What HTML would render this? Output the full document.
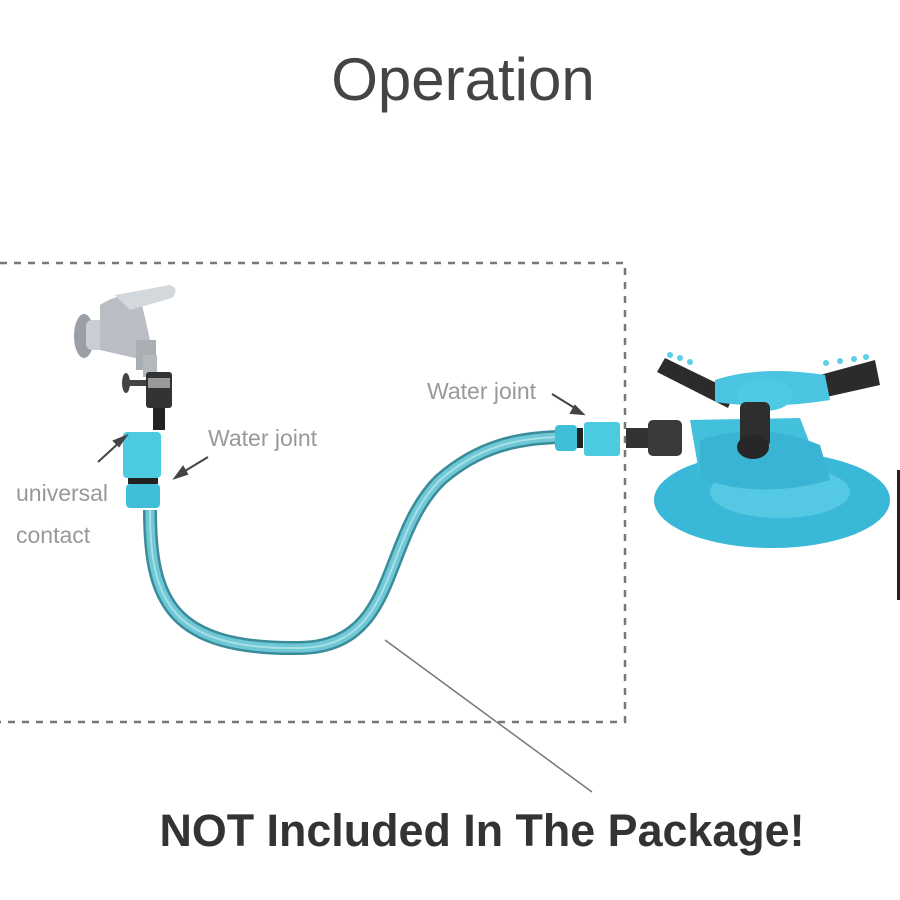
<!DOCTYPE html>
<html><head><style>
body{margin:0;background:#fff;}
svg{display:block;}
</style></head><body>
<svg width="900" height="900" viewBox="0 0 900 900" xmlns="http://www.w3.org/2000/svg" font-family="Liberation Sans, sans-serif">
<rect width="900" height="900" fill="#fff"/>
<text x="463" y="100" font-size="60" fill="#444" text-anchor="middle">Operation</text>
<!-- dashed box -->
<path d="M0 263 H625 V722 H0" fill="none" stroke="#777" stroke-width="2.5" stroke-dasharray="7,7"/>
<!-- hose -->
<path d="M150 510 C150 600 170 650 300 648 C400 646 380 540 440 480 C480 445 520 438 560 437" fill="none" stroke="#3a8c9a" stroke-width="14"/>
<path d="M150 510 C150 600 170 650 300 648 C400 646 380 540 440 480 C480 445 520 438 560 437" fill="none" stroke="#6ec8d6" stroke-width="9"/>
<path d="M150 510 C150 600 170 650 300 648 C400 646 380 540 440 480 C480 445 520 438 560 437" fill="none" stroke="#a8dfe6" stroke-width="2"/>
<!-- faucet -->
<ellipse cx="84" cy="336" rx="10" ry="22" fill="#9a9fa5"/>
<rect x="86" y="320" width="30" height="30" rx="6" fill="#c9ced3"/>
<path d="M100 305 Q120 292 140 296 L150 340 Q150 360 135 358 L100 350 Z" fill="#b8bec4"/>
<path d="M115 295 L170 285 Q180 288 172 298 L130 310 Z" fill="#d3d8dc"/>
<rect x="136" y="340" width="20" height="30" fill="#a9aeb3"/>
<rect x="143" y="355" width="14" height="22" fill="#b5b9bd"/>
<!-- universal connector -->
<rect x="146" y="372" width="26" height="36" rx="3" fill="#333"/>
<rect x="148" y="378" width="22" height="10" fill="#999"/>
<ellipse cx="126" cy="383" rx="4" ry="10" fill="#444"/>
<rect x="129" y="380" width="17" height="6" fill="#444"/>
<rect x="153" y="408" width="12" height="22" fill="#222"/>
<!-- left joint -->
<rect x="123" y="432" width="38" height="46" rx="4" fill="#4ccbe0"/>
<rect x="128" y="478" width="30" height="6" fill="#222"/>
<rect x="126" y="484" width="34" height="24" rx="4" fill="#3fbfd6"/>
<!-- arrows -->
<g stroke="#444" stroke-width="2" fill="#444">
<line x1="98" y1="462" x2="122" y2="440"/><polygon points="126,436 114,441 119,446"/>
<line x1="208" y1="457" x2="180" y2="474"/><polygon points="175,478 183,467 187,474"/>
<line x1="552" y1="394" x2="578" y2="410"/><polygon points="583,414 571,413 575,406"/>
</g>
<text x="208" y="446" font-size="23" fill="#999">Water joint</text>
<text x="427" y="399" font-size="23" fill="#999">Water joint</text>
<text x="16" y="501" font-size="23" fill="#999">universal</text>
<text x="16" y="543" font-size="23" fill="#999">contact</text>
<!-- right joint -->
<rect x="555" y="425" width="22" height="26" rx="4" fill="#3fbfd6"/>
<rect x="577" y="428" width="6" height="20" fill="#222"/>
<rect x="584" y="422" width="36" height="34" rx="3" fill="#4ccbe0"/>
<!-- sprinkler connector -->
<rect x="626" y="428" width="22" height="20" fill="#333"/>
<rect x="648" y="420" width="34" height="36" rx="5" fill="#3a3a3a"/>
<!-- sprinkler base -->
<ellipse cx="772" cy="500" rx="118" ry="48" fill="#3ab8d8"/>
<ellipse cx="780" cy="492" rx="70" ry="26" fill="#55c8e4"/>
<path d="M690 420 L800 418 L820 470 L700 478 Z" fill="#42c0dc"/>
<path d="M700 440 Q760 420 820 445 L830 480 Q760 500 700 478 Z" fill="#3ab4d4"/>
<!-- arms -->
<path d="M665 358 L735 392 L728 408 L657 372 Z" fill="#2b2b2b"/>
<path d="M820 375 L875 360 L880 385 L822 398 Z" fill="#2b2b2b"/>
<path d="M715 380 Q760 365 825 375 L830 400 Q770 410 715 402 Z" fill="#4ac4e0"/>
<ellipse cx="765" cy="395" rx="28" ry="16" fill="#50cae4"/>
<rect x="740" y="402" width="30" height="45" rx="6" fill="#2e2e2e"/>
<ellipse cx="753" cy="447" rx="16" ry="12" fill="#262626"/>
<g fill="#5cd0ea"><circle cx="670" cy="355" r="3"/><circle cx="680" cy="358" r="3"/><circle cx="690" cy="362" r="3"/><circle cx="826" cy="363" r="3"/><circle cx="840" cy="361" r="3"/><circle cx="854" cy="359" r="3"/><circle cx="866" cy="357" r="3"/></g>
<rect x="897" y="470" width="3" height="130" fill="#222"/>
<!-- pointer -->
<line x1="385" y1="640" x2="592" y2="792" stroke="#777" stroke-width="1.5"/>
<text x="482" y="846" font-size="45" font-weight="bold" fill="#333" text-anchor="middle" textLength="645" lengthAdjust="spacingAndGlyphs">NOT Included In The Package!</text>
</svg>
</body></html>
